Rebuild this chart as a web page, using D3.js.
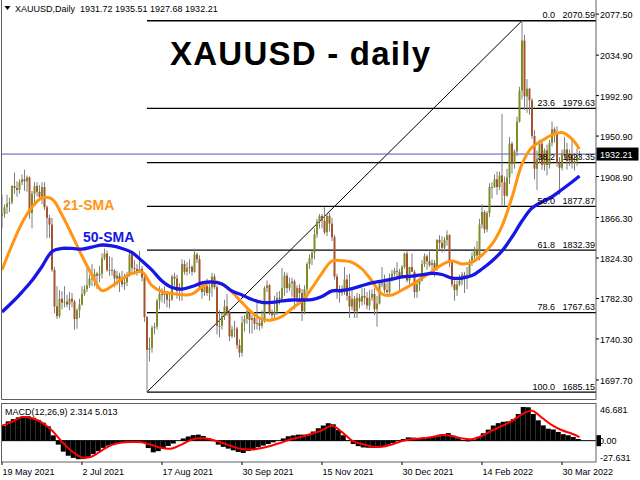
<!DOCTYPE html>
<html>
<head>
<meta charset="utf-8">
<script src="https://cdn.jsdelivr.net/npm/d3@7"></script>
<style>
  html, body { margin: 0; padding: 0; background: #ffffff; }
  svg { display: block; font-family: "Liberation Sans", Arial, sans-serif; }
</style>
</head>
<body>
<svg id="chart" width="640" height="480"></svg>
<script>
// ---------- Daily XAUUSD bars, 19 May 2021 .. 8 Apr 2022 (one entry per trading day) ----------
const opens = [
  1868,1870,1877,1881,1882,1899,1897,1895,1903,1906,
  1904,1908,1871,1891,1899,1893,1888,1898,1877,1866,
  1859,1812,1774,1764,1782,1778,1779,1776,1782,1779,
  1761,1770,1776,1787,1792,1796,1803,1803,1808,1806,
  1808,1824,1829,1812,1812,1811,1803,1806,1802,1797,
  1799,1807,1828,1814,1813,1810,1813,1804,1763,1729,
  1731,1752,1753,1780,1787,1786,1788,1781,1781,1805,
  1803,1790,1793,1818,1810,1814,1815,1810,1828,1823,
  1793,1789,1795,1788,1794,1805,1794,1754,1754,1764,
  1774,1768,1743,1750,1751,1734,1726,1757,1761,1769,
  1760,1762,1756,1757,1754,1760,1793,1796,1767,1765,
  1769,1783,1782,1793,1806,1793,1798,1800,1783,1793,
  1788,1769,1792,1818,1824,1830,1849,1862,1868,1863,
  1851,1868,1860,1846,1805,1790,1788,1792,1802,1785,
  1774,1782,1769,1783,1779,1785,1783,1775,1783,1787,
  1771,1777,1798,1798,1791,1789,1803,1808,1811,1810,
  1805,1815,1829,1801,1815,1810,1789,1797,1801,1818,
  1826,1821,1817,1819,1813,1843,1840,1835,1843,1848,
  1820,1797,1791,1797,1801,1807,1805,1807,1820,1826,
  1833,1827,1859,1872,1854,1871,1898,1898,1906,1898,
  1910,1903,1889,1908,1943,1922,1935,1966,1998,2050,
  1992,2000,1988,1951,1917,1927,1943,1921,1936,1921,
  1944,1958,1954,1923,1918,1933,1937,1925,1932,1923,
  1925,1931.72
];
const highs = [
  1890,1880,1890,1887,1900,1913,1904,1906,1911,1916,
  1910,1909,1894,1903,1903,1900,1903,1903,1879,1869,
  1866,1815,1795,1791,1790,1795,1786,1789,1788,1781,
  1772,1782,1795,1796,1815,1807,1818,1813,1810,1816,
  1829,1834,1832,1826,1825,1813,1811,1809,1811,1808,
  1810,1832,1831,1822,1818,1832,1816,1807,1764,1742,
  1754,1757,1782,1795,1793,1795,1790,1787,1807,1809,
  1807,1798,1823,1822,1820,1823,1817,1834,1830,1827,
  1799,1800,1803,1797,1809,1808,1796,1770,1768,1781,
  1787,1771,1754,1759,1753,1740,1764,1765,1771,1770,
  1765,1765,1781,1763,1770,1795,1801,1797,1771,1785,
  1789,1790,1814,1810,1809,1804,1804,1802,1796,1797,
  1792,1796,1820,1828,1832,1855,1865,1870,1870,1877,
  1870,1871,1866,1848,1808,1796,1796,1815,1807,1808,
  1792,1785,1788,1787,1793,1793,1789,1791,1792,1793,
  1785,1800,1815,1807,1799,1808,1812,1814,1820,1813,
  1817,1830,1832,1815,1829,1812,1800,1804,1822,1829,
  1828,1831,1823,1822,1844,1848,1847,1846,1853,1849,
  1822,1801,1801,1807,1810,1810,1815,1823,1830,1836,
  1842,1865,1880,1874,1873,1902,1903,1911,1914,1914,
  1974,1909,1917,1950,1945,1937,1971,2002,2070.59,2056,
  2010,2001,1990,1957,1936,1947,1945,1938,1942,1947,
  1966,1960,1961,1929,1937,1950,1944,1937,1948,1933,
  1938,1935.51
];
const lows = [
  1855,1866,1870,1872,1880,1891,1888,1891,1900,1894,
  1893,1865,1855,1882,1888,1884,1880,1874,1845,1845,
  1810,1767,1761,1762,1771,1773,1773,1770,1773,1750,
  1751,1762,1775,1785,1789,1793,1795,1795,1792,1799,
  1803,1822,1810,1806,1806,1794,1796,1789,1794,1791,
  1795,1805,1810,1807,1806,1809,1800,1758,1685.15,1717,
  1726,1745,1750,1771,1778,1777,1773,1772,1780,1795,
  1782,1780,1780,1807,1806,1808,1806,1809,1819,1791,
  1782,1785,1785,1780,1784,1792,1745,1742,1750,1760,
  1764,1738,1741,1742,1730,1721,1722,1748,1756,1746,
  1746,1750,1750,1749,1751,1757,1789,1765,1760,1762,
  1765,1776,1779,1785,1788,1790,1784,1771,1778,1782,
  1759,1766,1782,1813,1817,1823,1845,1855,1855,1849,
  1847,1852,1842,1802,1782,1778,1785,1786,1780,1762,
  1770,1762,1762,1772,1775,1776,1771,1770,1780,1765,
  1753,1776,1794,1788,1784,1787,1800,1805,1805,1790,
  1803,1813,1799,1797,1810,1783,1783,1790,1800,1815,
  1812,1815,1812,1805,1811,1833,1830,1831,1837,1815,
  1794,1780,1785,1795,1796,1788,1792,1805,1816,1823,
  1822,1822,1855,1850,1851,1867,1886,1897,1890,1895,
  1878,1878,1888,1901,1912,1917,1930,1965,1989,1978,
  1975,1973,1948,1906,1895,1923,1916,1915,1910,1917,
  1940,1944,1919,1890,1915,1928,1916,1920,1917,1915,
  1920,1927.68
];
const closes = [
  1870,1877,1881,1882,1899,1897,1895,1903,1906,1904,
  1908,1871,1891,1899,1893,1888,1898,1877,1866,1859,
  1812,1774,1764,1782,1778,1779,1776,1782,1779,1761,
  1770,1776,1787,1792,1796,1803,1803,1808,1806,1808,
  1824,1829,1812,1812,1811,1803,1806,1802,1797,1799,
  1807,1828,1814,1813,1810,1813,1804,1763,1729,1731,
  1752,1753,1780,1787,1786,1788,1781,1781,1805,1803,
  1790,1793,1818,1810,1814,1815,1810,1828,1823,1793,
  1789,1795,1788,1794,1805,1794,1754,1754,1764,1774,
  1768,1743,1750,1751,1734,1726,1757,1761,1769,1760,
  1762,1756,1757,1754,1760,1793,1796,1767,1765,1769,
  1783,1782,1793,1806,1793,1798,1800,1783,1793,1788,
  1769,1792,1818,1824,1830,1849,1862,1868,1863,1851,
  1868,1860,1846,1805,1790,1788,1792,1802,1785,1774,
  1782,1769,1783,1779,1785,1783,1775,1783,1787,1771,
  1777,1798,1798,1791,1789,1803,1808,1811,1810,1805,
  1815,1829,1801,1815,1810,1789,1797,1801,1818,1826,
  1821,1817,1819,1813,1843,1840,1835,1843,1848,1820,
  1797,1791,1797,1801,1807,1805,1807,1820,1826,1833,
  1827,1859,1872,1854,1871,1898,1898,1906,1898,1910,
  1903,1889,1908,1943,1922,1935,1966,1998,2050,1992,
  2000,1988,1951,1917,1927,1943,1921,1936,1921,1944,
  1958,1954,1923,1918,1933,1937,1925,1932,1923,1925,
  1931,1932.21
];

// Moving averages, one reading every 4th bar (bars 0,4,...,228) plus the last bar (231)
const smaBars = [0,4,8,12,16,20,24,28,32,36,40,44,48,52,56,60,64,68,72,76,80,84,88,92,96,100,
  104,108,112,116,120,124,128,132,136,140,144,148,152,156,160,164,168,172,176,180,184,188,192,196,
  200,204,208,212,216,220,224,228,231];
const sma21 = [
  1811.9,1837.8,1860.6,1877.2,1886.6,1885.5,1868.9,1848.2,1826.4,1806.7,
  1790.4,1795.2,1802.5,1808.2,1809.8,1795.6,1789.3,1787.5,1786.1,1786.9,
  1794.2,1799.7,1797.3,1789.0,1778.1,1767.7,1760.7,1760.0,1763.6,1771.9,
  1779.7,1793.2,1808.7,1821.2,1821.5,1819.8,1812.9,1800.4,1786.9,1785.9,
  1791.1,1796.8,1803.5,1810.3,1817.5,1821.2,1818.1,1820.1,1827.4,1838.8,
  1857.5,1887.3,1921.8,1939.2,1946.2,1952.2,1954.5,1947.8,1937.4
];
const sma50 = [
  1768.3,1778.1,1789.0,1800.9,1815.5,1831.0,1834.2,1834.2,1833.6,1835.7,
  1837.8,1836.8,1834.2,1830.0,1821.2,1811.8,1800.4,1793.7,1792.1,1794.7,
  1798.4,1799.4,1797.3,1790.1,1785.9,1781.2,1778.3,1778.3,1779.7,1780.7,
  1780.7,1781.2,1784.3,1790.1,1790.6,1792.6,1795.6,1798.4,1800.4,1802.5,
  1804.6,1805.6,1806.7,1808.4,1807.2,1803.5,1803.5,1806.1,1812.9,1821.2,
  1831.6,1846.1,1862.7,1876.2,1882.4,1887.9,1895.4,1903.2,1909.4
];

// MACD(12,26,9): main histogram per pair of bars (bars 0,2,...,230), signal at smaBars
const macdMain = [
  20.4,26.8,29.9,32.3,33.8,33.8,31.9,28.8,24.9,19.9,
  7.4,-5.5,-15.2,-20.9,-23.9,-25.7,-25.5,-22.4,-18.7,-14.7,
  -10,-7,-4.8,-3.2,-2,-1.3,-0.9,-0.9,-2.8,-10.2,
  -16.2,-14.5,-10.1,-7.3,-4,0,3.1,5.8,7.7,8.4,
  6.5,3.4,-0.8,-5.5,-8.6,-11,-13.4,-15.7,-17.1,-14.4,
  -11.6,-9.1,-6.8,-4.6,-2.3,0,3.1,6.1,7.3,8.4,
  8.4,8.4,12.7,17.2,21,24.2,22.7,14.9,7.5,0.6,
  -4.6,-7.6,-9.4,-9.8,-9.9,-9.1,-7.9,-5.8,-3.4,-0.4,
  2.3,4.6,4.2,3.7,4.2,4.6,5.4,6.1,9,10.5,
  6.9,3.4,0.8,-0.9,1.1,5.3,10.3,15.3,21,24.3,
  26.2,26.8,29.8,36.9,46.681,46.3,37,28.2,21.2,16.6,
  15.5,12.1,9,7.5,5.1,2.314
];
const macdSignal = [
  20.8,26.1,32.8,31,25.1,14.1,-1.5,-14.9,-23.2,-21.9,
  -13.3,-5.8,-2.5,-1.9,-2.2,-6.1,-10.3,-10.8,-5.1,1.4,
  3.3,1.4,-2.8,-7.8,-11.7,-12.3,-10.3,-6.8,-2.3,2.3,
  5.6,9.5,14.3,20.7,11.8,0.2,-4.7,-8,-8.5,-5.2,
  -0.4,2.1,3.2,5.2,7.7,6.5,3.1,2.1,6.7,14.2,
  20.4,27.3,36.6,41.6,31.7,21.6,14.4,9.6,5.013
];

// Fibonacci retracement drawn from the 9 Aug 2021 low to the 8 Mar 2022 high
const fibLevels = ["0.0","23.6","38.2","50.0","61.8","78.6","100.0"];
const fibPrices = [2070.59,1979.63,1923.35,1877.87,1832.39,1767.63,1685.15];
const fibStartBar = 58, fibEndBar = 208;

// Axis labels
const priceTicks = [2077.50,2034.90,1992.90,1950.90,1908.90,1866.30,1824.30,1782.30,1740.30,1697.70];
const dateTickBars = [0,32,64,96,128,160,192,224];
const dateTickLabels = ["19 May 2021","2 Jul 2021","17 Aug 2021","30 Sep 2021",
  "15 Nov 2021","30 Dec 2021","14 Feb 2022","30 Mar 2022"];
const macdTicks = [46.681, 0.00, -27.631];
const lastQuote = {open: 1931.72, high: 1935.51, low: 1927.68, close: 1932.21};
const macdLast = {main: 2.314, signal: 5.013};

// ---------- layout ----------
const svg = d3.select("#chart");
const plotLeft = 1.5, plotRight = 596;
const mainTop = 0, mainBottom = 399.5;
const macdTop = 403.5, macdBottom = 462;

const x = d3.scaleLinear().domain([0, 232]).range([2, 582]);
const y = d3.scaleLinear().domain([1677.42, 2092.14]).range([mainBottom, mainTop]);
const ym = d3.scaleLinear().domain([-27.631, 46.681]).range([460.6, 407]);

const defs = svg.append("defs");
defs.append("clipPath").attr("id", "clipMain").append("rect")
  .attr("x", plotLeft).attr("y", mainTop).attr("width", plotRight - plotLeft).attr("height", mainBottom - mainTop);
defs.append("clipPath").attr("id", "clipMacd").append("rect")
  .attr("x", plotLeft).attr("y", macdTop).attr("width", plotRight - plotLeft).attr("height", macdBottom - macdTop);

svg.append("rect").attr("width", 640).attr("height", 480).attr("fill", "#ffffff");

const main = svg.append("g").attr("clip-path", "url(#clipMain)");

// Fibonacci levels and the swing trend line
const fibG = main.append("g");
fibPrices.forEach((p) => {
  fibG.append("line")
    .attr("x1", x(fibStartBar)).attr("x2", plotRight)
    .attr("y1", y(p)).attr("y2", y(p))
    .attr("stroke", "#000").attr("stroke-width", 1.3);
});
fibG.append("line")
  .attr("x1", x(fibStartBar)).attr("y1", y(fibPrices[6]))
  .attr("x2", x(fibEndBar)).attr("y2", y(fibPrices[0]))
  .attr("stroke", "#000").attr("stroke-width", 1);

// Current price line
main.append("line")
  .attr("x1", plotLeft).attr("x2", plotRight)
  .attr("y1", y(lastQuote.close)).attr("y2", y(lastQuote.close))
  .attr("stroke", "#5656b4").attr("stroke-width", 1);

// Candles
const bars = d3.range(closes.length);
const candleG = main.append("g");
candleG.selectAll("line.wick").data(bars).join("line")
  .attr("class", "wick")
  .attr("x1", i => x(i)).attr("x2", i => x(i))
  .attr("y1", i => y(highs[i])).attr("y2", i => y(lows[i]))
  .attr("stroke", "#7f7f7f").attr("stroke-width", 1);
candleG.selectAll("rect.body").data(bars).join("rect")
  .attr("class", "body")
  .attr("x", i => x(i) - 1).attr("width", 2)
  .attr("y", i => y(Math.max(opens[i], closes[i])))
  .attr("height", i => Math.max(1, Math.abs(y(opens[i]) - y(closes[i]))))
  .attr("fill", i => closes[i] >= opens[i] ? "#7e8d26" : "#a4532b");

// Moving averages
const smaLine = (vals) => d3.line()
  .x((d, k) => x(smaBars[k])).y(d => y(d))
  .curve(d3.curveCatmullRom.alpha(0.5))(vals);
main.append("path").attr("d", smaLine(sma21))
  .attr("fill", "none").attr("stroke", "#ff9512").attr("stroke-width", 3)
  .attr("stroke-linejoin", "round");
main.append("path").attr("d", smaLine(sma50))
  .attr("fill", "none").attr("stroke", "#1616e6").attr("stroke-width", 3.3)
  .attr("stroke-linejoin", "round");

// Fibonacci labels
fibPrices.forEach((p, k) => {
  main.append("text").attr("x", 555).attr("y", y(p) - 2.5)
    .attr("text-anchor", "end").attr("font-size", 9).attr("fill", "#000").text(fibLevels[k]);
  main.append("text").attr("x", 595).attr("y", y(p) - 2.5)
    .attr("text-anchor", "end").attr("font-size", 9).attr("fill", "#000").text(p.toFixed(2));
});

// Title and legends
svg.append("text").attr("x", 170).attr("y", 65)
  .attr("font-size", 33).attr("font-weight", "bold").attr("fill", "#000")
  .attr("textLength", 260).attr("lengthAdjust", "spacing")
  .text("XAUUSD - daily");
svg.append("text").attr("x", 63).attr("y", 210)
  .attr("font-size", 14).attr("font-weight", "bold").attr("fill", "#ff9512").text("21-SMA");
svg.append("text").attr("x", 83).attr("y", 241.5)
  .attr("font-size", 14).attr("font-weight", "bold").attr("fill", "#1616e6").text("50-SMA");

// Header line
svg.append("path").attr("d", "M4.5,6 L10.5,6 L7.5,10 Z").attr("fill", "#000");
svg.append("text").attr("x", 15).attr("y", 11.5).attr("font-size", 9).attr("fill", "#000")
  .attr("xml:space", "preserve")
  .text("XAUUSD,Daily  " + [lastQuote.open, lastQuote.high, lastQuote.low, lastQuote.close]
    .map(v => v.toFixed(2)).join(" "));

// Main panel frame
const frame = svg.append("g").attr("fill", "none").attr("stroke", "#606060").attr("stroke-width", 1);
frame.append("line").attr("x1", plotLeft).attr("x2", plotLeft).attr("y1", 0).attr("y2", mainBottom);
frame.append("line").attr("x1", plotRight).attr("x2", plotRight).attr("y1", 0).attr("y2", mainBottom);
frame.append("line").attr("x1", plotLeft).attr("x2", plotRight).attr("y1", mainBottom).attr("y2", mainBottom);

// Price axis
const pAxis = svg.append("g");
priceTicks.forEach(v => {
  pAxis.append("line").attr("x1", plotRight).attr("x2", plotRight + 3)
    .attr("y1", y(v)).attr("y2", y(v)).attr("stroke", "#000");
  pAxis.append("text").attr("x", 600).attr("y", y(v) + 1)
    .attr("dominant-baseline", "central").attr("font-size", 9).attr("fill", "#000")
    .text(v.toFixed(2));
});
pAxis.append("rect").attr("x", plotRight + 0.5).attr("y", y(lastQuote.close) - 6.5)
  .attr("width", 42).attr("height", 13).attr("fill", "#000");
pAxis.append("text").attr("x", 600).attr("y", y(lastQuote.close) + 0.5)
  .attr("dominant-baseline", "central").attr("font-size", 9).attr("fill", "#fff")
  .text(lastQuote.close.toFixed(2));

// ---------- MACD panel ----------
const macdG = svg.append("g").attr("clip-path", "url(#clipMacd)");
macdG.selectAll("rect").data(macdMain).join("rect")
  .attr("x", (d, k) => x(2 * k) - 1.25).attr("width", 5)
  .attr("y", d => Math.min(ym(d), ym(0)))
  .attr("height", d => Math.abs(ym(d) - ym(0)))
  .attr("fill", "#000");
macdG.append("line").attr("x1", plotLeft).attr("x2", plotRight)
  .attr("y1", ym(0)).attr("y2", ym(0)).attr("stroke", "#000").attr("stroke-width", 1);
macdG.append("path")
  .attr("d", d3.line().x((d, k) => x(smaBars[k])).y(d => ym(d))
    .curve(d3.curveCatmullRom.alpha(0.5))(macdSignal))
  .attr("fill", "none").attr("stroke", "#ff0000").attr("stroke-width", 2);

svg.append("rect").attr("x", plotLeft).attr("y", macdTop)
  .attr("width", plotRight - plotLeft).attr("height", macdBottom - macdTop)
  .attr("fill", "none").attr("stroke", "#606060");

svg.append("text").attr("x", 5).attr("y", 414.5).attr("font-size", 9).attr("fill", "#000")
  .text("MACD(12,26,9) " + macdLast.main.toFixed(3) + " " + macdLast.signal.toFixed(3));

// MACD scale labels
svg.append("text").attr("x", 600).attr("y", ym(macdTicks[0]) + 3)
  .attr("dominant-baseline", "central").attr("font-size", 9).text(macdTicks[0].toFixed(3));
svg.append("rect").attr("x", plotRight + 0.5).attr("y", ym(0) - 5.5)
  .attr("width", 4.5).attr("height", 11).attr("fill", "#000");
svg.append("text").attr("x", 599).attr("y", ym(macdTicks[1]) + 0.5)
  .attr("dominant-baseline", "central").attr("font-size", 9).text(macdTicks[1].toFixed(2));
svg.append("text").attr("x", 600).attr("y", ym(macdTicks[2]) - 2.5)
  .attr("dominant-baseline", "central").attr("font-size", 9).text(macdTicks[2].toFixed(3));

// Date axis
dateTickBars.forEach((b, k) => {
  svg.append("line").attr("x1", x(b)).attr("x2", x(b))
    .attr("y1", macdBottom).attr("y2", macdBottom + 3).attr("stroke", "#000");
  svg.append("text").attr("x", x(b) + 0.5).attr("y", 474.5)
    .attr("font-size", 9).attr("fill", "#000").text(dateTickLabels[k]);
});
</script>
</body>
</html>
